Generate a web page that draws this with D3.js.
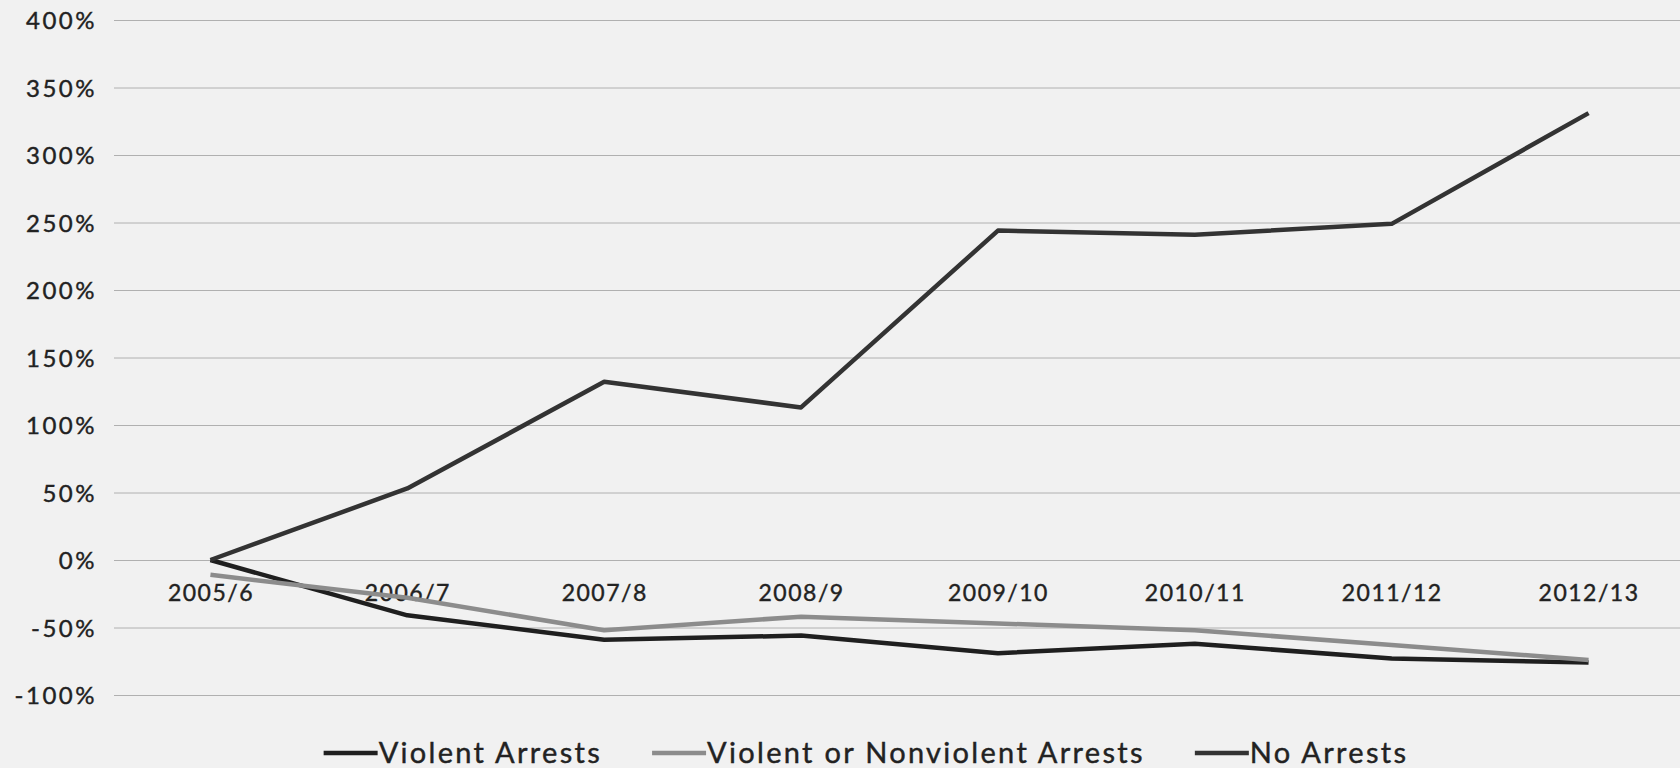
<!DOCTYPE html>
<html>
<head>
<meta charset="utf-8">
<script src="https://cdn.jsdelivr.net/npm/d3@7"></script>
<style>
  html, body { margin: 0; padding: 0; background: #f1f1f1; }
  svg { display: block; }
  text { font-family: Lato, "Open Sans", sans-serif; fill: #222; }
</style>
</head>
<body>
<svg id="chart" width="1680" height="768"></svg>
<script>
const categories = ["2005/6","2006/7","2007/8","2008/9","2009/10","2010/11","2011/12","2012/13"];
const violentArrests = [0, -41, -59, -56, -69, -62, -73, -76];
const violentOrNonviolent = [-11, -28, -52, -42, -47, -52, -63, -74];
const noArrests = [0, 53, 132, 113, 244, 241, 249, 331];
const yTicks = [-100, -50, 0, 50, 100, 150, 200, 250, 300, 350, 400];
const seriesNames = ["Violent Arrests", "Violent or Nonviolent Arrests", "No Arrests"];
const seriesColors = ["#1f1f1f", "#8c8c8c", "#333333"];

const series = [
  { name: seriesNames[0], values: violentArrests, color: seriesColors[0] },
  { name: seriesNames[1], values: violentOrNonviolent, color: seriesColors[1] },
  { name: seriesNames[2], values: noArrests, color: seriesColors[2] }
];

const svg = d3.select("#chart");
const W = 1680, H = 768;
const plotLeft = 112, plotRight = 1687;

const x = d3.scalePoint().domain(categories).range([plotLeft, plotRight]).padding(0.5);
const y = d3.scaleLinear().domain([-100, 400]).range([695, 20]);

// gridlines
const grid = svg.append("g")
  .attr("transform", `translate(${114},0)`)
  .call(d3.axisLeft(y).tickValues(yTicks).tickSize(-(W - 114)).tickFormat(""));
grid.select(".domain").remove();
grid.selectAll(".tick line").attr("stroke", "#b0b0b0").attr("stroke-width", 1);

// y labels
const yAxis = svg.append("g")
  .attr("transform", `translate(${97},0)`)
  .call(d3.axisLeft(y).tickValues(yTicks).tickSize(0).tickPadding(0).tickFormat(d => d + "%"));
yAxis.select(".domain").remove();
yAxis.selectAll("text")
  .attr("font-size", 24)
  .attr("letter-spacing", 2.5)
  .attr("fill", "#222")
  .attr("stroke", "#222")
  .attr("stroke-width", 0.4)
  .style("font-family", "Lato, 'Open Sans', sans-serif")
  .attr("dy", "0.36em");

// x labels
const xAxis = svg.append("g")
  .attr("transform", `translate(0,${y(0)})`)
  .call(d3.axisBottom(x).tickSize(0).tickPadding(0));
xAxis.select(".domain").remove();
xAxis.selectAll("text")
  .attr("font-size", 23)
  .attr("letter-spacing", 1.5)
  .attr("fill", "#222")
  .attr("stroke", "#222")
  .attr("stroke-width", 0.4)
  .style("font-family", "Lato, 'Open Sans', sans-serif")
  .attr("dy", 0)
  .attr("y", 41);

// lines
const line = d3.line().x((d, i) => x(categories[i])).y(d => y(d));
svg.append("g").selectAll("path")
  .data(series)
  .join("path")
  .attr("d", d => line(d.values))
  .attr("fill", "none")
  .attr("stroke", d => d.color)
  .attr("stroke-width", 4.5)
  .attr("stroke-linejoin", "round");

// legend
const legend = svg.append("g");
const lineLen = 54, itemGap = 50, legendY = 753;
let cursor = 0;
series.forEach(s => {
  const g = legend.append("g");
  g.append("line").attr("x1", 0).attr("x2", lineLen).attr("y1", 0).attr("y2", 0)
    .attr("stroke", s.color).attr("stroke-width", 4.5);
  const t = g.append("text").attr("x", lineLen + 1).attr("y", 10)
    .attr("font-size", 29).attr("letter-spacing", 2.3)
    .attr("stroke", "#222").attr("stroke-width", 0.4)
    .text(s.name);
  const w = lineLen + 1 + t.node().getComputedTextLength();
  g.attr("transform", `translate(${cursor},0)`);
  cursor += w + itemGap;
});
const total = cursor - itemGap;
legend.attr("transform", `translate(${866 - total / 2},${legendY})`);
</script>
</body>
</html>
